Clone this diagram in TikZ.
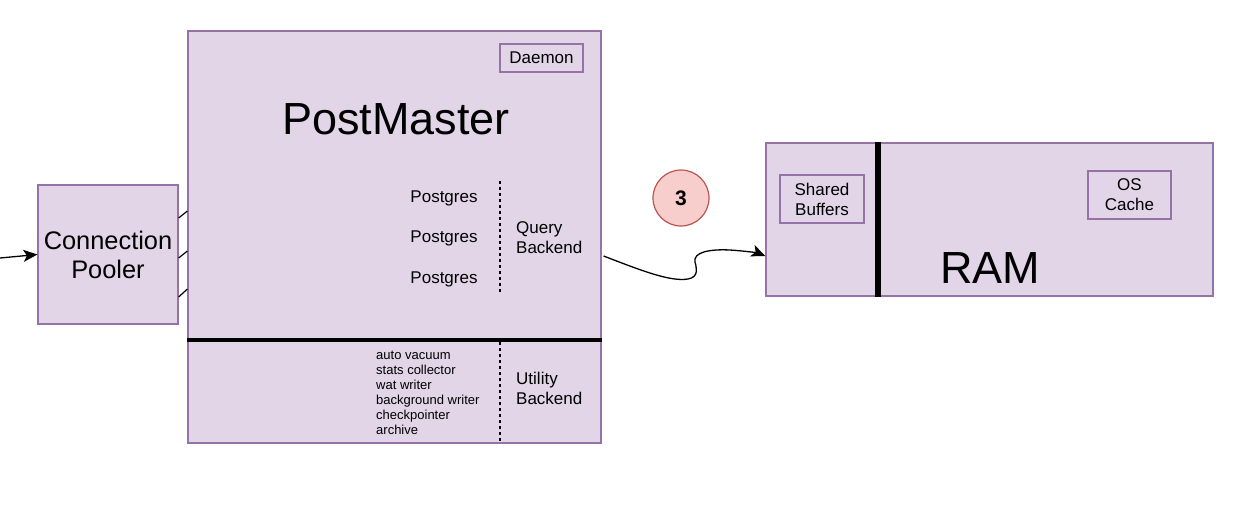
\documentclass[tikz,border=0pt]{standalone}
\usepackage{fontspec}
\setmainfont{Liberation Sans}
\usetikzlibrary{arrows.meta}
\definecolor{pfill}{HTML}{E1D5E7}
\definecolor{pstroke}{HTML}{9673A6}
\definecolor{rfill}{HTML}{F8CECC}
\definecolor{rstroke}{HTML}{B85450}
\tikzset{
  box/.style={draw=pstroke, fill=pfill, line width=1.2pt, inner sep=0pt},
  lbl/.style={inner sep=0pt, font=\fontsize{17}{20}\selectfont},
  big/.style={inner sep=0pt, font=\fontsize{45}{52}\selectfont},
  sep/.style={line width=1.2pt, dash pattern=on 3pt off 3pt},
  conn/.style={line width=1.2pt},
  arr/.style={line width=1.3pt, -{Stealth[length=14pt,width=12pt,inset=3.5pt]}},
}
\begin{document}
\begin{tikzpicture}[x=1pt,y=-1pt]
\useasboundingbox (0,0) rectangle (1245,504);
% boxes
\node[box, minimum width=140pt, minimum height=139pt, align=center,
      font=\fontsize{25.4}{29}\selectfont] (pool) at (108,254.5) {Connection\\Pooler};
\node[box, minimum width=413pt, minimum height=412pt] (pm) at (394.5,237) {};
\node[box, minimum width=447pt, minimum height=153pt] (ram) at (989.5,219.5) {};
\node[box, minimum width=83pt, minimum height=28pt, lbl] (daemon) at (541.5,58) {Daemon};
\node[box, minimum width=84pt, minimum height=48pt, lbl, align=center] (shared) at (822,199) {Shared\\Buffers};
\node[box, minimum width=83pt, minimum height=48pt, lbl, align=center] (oscache) at (1129.5,195) {OS\\Cache};
% texts
\node[big] (pmtitle) at (396,119) {PostMaster};
\node[big] (ramtitle) at (990,268) {RAM};
\node[lbl] (pg1) at (444,198) {Postgres};
\node[lbl] (pg2) at (444,238) {Postgres};
\node[lbl] (pg3) at (444,279) {Postgres};
\node[lbl, anchor=west, align=left] (qb) at (516,238) {Query\\Backend};
\node[lbl, anchor=west, align=left] (ub) at (516,388) {Utility\\Backend};
\node[inner sep=0pt, anchor=north west, align=left, font=\fontsize{13}{15}\selectfont] (util) at (376,351)
  {auto vacuum\\stats collector\\wat writer\\background writer\\checkpointer\\archive};
% separators
\draw[line width=3.5pt] (pm.west |- 0,340) -- (pm.east |- 0,340);
\draw[line width=6pt] (878,0 |- ram.north) -- (878,0 |- ram.south);
\draw[sep] (500,181) -- (500,293);
\draw[sep] (500,342) -- (500,443);
% badge
\node[circle, draw=rstroke, fill=rfill, line width=1.2pt, minimum size=56pt, inner sep=0pt,
      font=\bfseries\fontsize{21}{24}\selectfont] (three) at (681,198) {3};
% connectors
\coordinate (src) at (0,258);
\draw[arr] (src) -- (pool.west);
\draw[conn] ([yshift=36.5pt]pool.east) -- ([yshift=26pt]pm.west);
\draw[conn] ([yshift=-3.5pt]pool.east) -- ([yshift=-14pt]pm.west);
\draw[conn] ([yshift=-42.5pt]pool.east) -- ([yshift=-52pt]pm.west);
\draw[arr] ([xshift=2pt,yshift=-19pt]pm.east)
  .. controls (640,270) and (670,282) .. (688,279)
  .. controls (700,277) and (696,266) .. (695,262)
  .. controls (693,252) and (710,249) .. (730,250)
  .. controls (745,251) and (758,253) .. ([yshift=-36.5pt]ram.west);
\end{tikzpicture}
\end{document}
